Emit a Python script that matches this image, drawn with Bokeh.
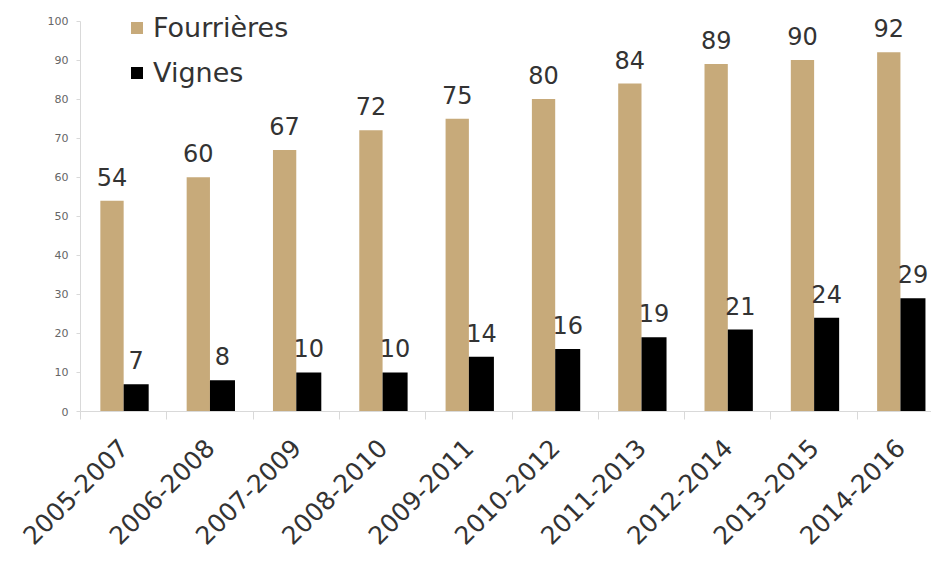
import math
from bokeh.plotting import figure
from bokeh.models import (Range1d, FixedTicker, ColumnDataSource, Legend, LegendItem,
                          LabelSet)
from bokeh.core.properties import value
from bokeh.embed import file_html
from bokeh.resources import INLINE

periods = ["2005-2007", "2006-2008", "2007-2009", "2008-2010", "2009-2011",
           "2010-2012", "2011-2013", "2012-2014", "2013-2015", "2014-2016"]
fourrieres = [54, 60, 67, 72, 75, 80, 84, 89, 90, 92]
vignes = [7, 8, 10, 10, 14, 16, 19, 21, 24, 29]
y_ticks = [0, 10, 20, 30, 40, 50, 60, 70, 80, 90, 100]

TAN = "#C7AA7A"
FONT = "DejaVu Sans"

idx = list(range(len(periods)))
src = ColumnDataSource(dict(
    xf=[i + 0.365 for i in idx],
    xv=[i + 0.645 for i in idx],
    f=fourrieres,
    v=vignes,
    fl=[str(v) for v in fourrieres],
    vl=[str(v) for v in vignes],
))

p = figure(width=931, height=572, x_range=Range1d(0, 9.86), y_range=Range1d(0, 105),
           output_backend="svg", toolbar_location=None,
           min_border_left=80, min_border_top=1, min_border_bottom=161, min_border_right=0)
p.outline_line_color = None
p.xgrid.visible = False
p.ygrid.visible = False

rf = p.vbar(x="xf", top="f", width=0.27, bottom=0, source=src, fill_color=TAN, line_color=None)
rv = p.vbar(x="xv", top="v", width=0.29, bottom=0, source=src, fill_color="black", line_color=None)

for col, xcol, lab in (("f", "xf", "fl"), ("v", "xv", "vl")):
    ls = LabelSet(x=xcol, y=col, text=lab, source=src, text_align="center",
                  text_baseline="alphabetic", y_offset=15, text_font=value(FONT),
                  text_font_size="24px", text_color="#333333")
    p.add_layout(ls)

# y axis
ya = p.yaxis[0]
ya.ticker = FixedTicker(ticks=y_ticks)
ya.bounds = (0, 100)
ya.axis_line_color = "#d9d9d9"
ya.major_tick_line_color = "#d9d9d9"
ya.major_tick_out = 4
ya.major_tick_in = 0
ya.minor_tick_out = 0
ya.minor_tick_in = 0
ya.major_label_standoff = 8
ya.major_label_text_font = FONT
ya.major_label_text_font_size = "11px"
ya.major_label_text_color = "#666666"

# x axis
xa = p.xaxis[0]
xa.ticker = FixedTicker(ticks=[i + 0.5 for i in idx],
                        minor_ticks=[float(i) for i in range(len(periods) + 1)])
xa.major_label_overrides = {i + 0.5: periods[i] for i in idx}
xa.major_label_orientation = math.pi / 4
xa.axis_line_color = "#d9d9d9"
xa.major_tick_out = 0
xa.major_tick_in = 0
xa.minor_tick_out = 8
xa.minor_tick_in = 0
xa.minor_tick_line_color = "#d9d9d9"
xa.major_label_standoff = 24
xa.major_label_text_font = FONT
xa.major_label_text_font_size = "25px"
xa.major_label_text_color = "#333333"

legend = Legend(items=[LegendItem(label="Fourrières", renderers=[rf]),
                       LegendItem(label="Vignes", renderers=[rv])],
                location=(49, 323), glyph_width=15, glyph_height=15,
                label_text_font=FONT, label_text_font_size="27px", label_text_color="#333333",
                label_standoff=9, spacing=14, padding=0, margin=0,
                border_line_alpha=0, background_fill_alpha=0)
p.add_layout(legend)

open("out.html", "w").write(file_html(p, INLINE))
